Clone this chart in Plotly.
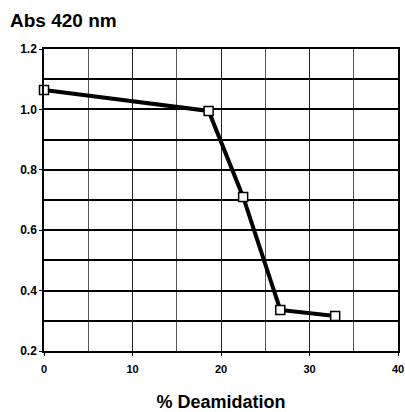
import plotly.graph_objects as go

deamidation = [0, 18.6, 22.5, 26.7, 32.9]
absorbance = [1.064, 0.995, 0.71, 0.336, 0.316]

x_ticks = [0, 10, 20, 30, 40]
y_ticks = [0.2, 0.4, 0.6, 0.8, 1.0, 1.2]
y_labels = ["0.2", "0.4", "0.6", "0.8", "1.0", "1.2"]

font = "Liberation Sans, Arial, sans-serif"

W, H = 405, 412

fig = go.Figure()
fig.add_trace(go.Scatter(
    x=deamidation, y=absorbance, mode="lines+markers",
    line=dict(color="black", width=4),
    marker=dict(symbol="square", size=9, color="white",
                line=dict(color="black", width=1.5)),
    cliponaxis=False, showlegend=False,
))

fig.update_layout(
    width=W, height=H,
    margin=dict(l=44, r=7, t=49, b=61, autoexpand=False),
    paper_bgcolor="white", plot_bgcolor="white",
    title=dict(text="<b>Abs 420 nm</b>", x=10/W, xref="container", xanchor="left",
               y=1-20/H, yref="container", yanchor="middle",
               font=dict(family=font, size=19, color="black")),
    xaxis=dict(range=[0, 40], tickvals=x_ticks, ticktext=[f"<b>{v}</b>" for v in x_ticks],
               showgrid=True, gridcolor="#222", gridwidth=1,
               minor=dict(dtick=5, showgrid=True, gridcolor="#555", gridwidth=1),
               showline=True, linecolor="black", linewidth=1.5, mirror=True,
               ticks="outside", ticklen=3, tickcolor="black", zeroline=False,
               ticklabeloverflow="allow", ticklabelstandoff=4,
               tickfont=dict(family=font, size=11, color="black"),
               title=dict(text="<b>% Deamidation</b>", standoff=23,
                          font=dict(family=font, size=18, color="black"))),
    yaxis=dict(range=[0.2, 1.2], tickvals=y_ticks, ticktext=[f"<b>{t}</b>" for t in y_labels],
               showgrid=True, gridcolor="black", gridwidth=1.5,
               minor=dict(dtick=0.1, showgrid=True, gridcolor="black", gridwidth=1.5),
               showline=True, linecolor="black", linewidth=1.5, mirror=True,
               ticks="outside", ticklen=3, tickcolor="black", zeroline=False,
               ticklabeloverflow="allow",
               tickfont=dict(family=font, size=12, color="black")),
)

fig.write_html(
    "out.html",
    config={"displayModeBar": False},
    post_script="document.body.style.margin='0';document.body.style.overflow='hidden';",
)
